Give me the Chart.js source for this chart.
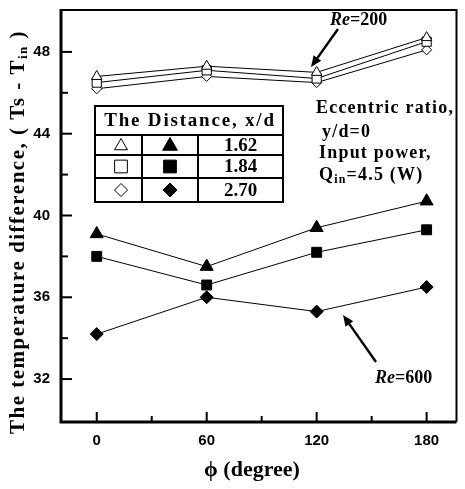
<!DOCTYPE html>
<html>
<head>
<meta charset="utf-8">
<script src="https://cdn.jsdelivr.net/npm/chart.js@4/dist/chart.umd.min.js"></script>
<style>
  body { margin: 0; background: #fff; }
</style>
</head>
<body>
<canvas id="grafico" width="465" height="489"></canvas>
<script>
// angulo phi (graus)
const phi = [0, 60, 120, 180];

// Re = 200 (simbolos abertos)
const re200_162 = [46.8, 47.3, 47.0, 48.7];
const re200_184 = [46.5, 47.1, 46.7, 48.5];
const re200_270 = [46.2, 46.8, 46.5, 48.1];

// Re = 600 (simbolos cheios)
const re600_162 = [39.1, 37.5, 39.4, 40.7];
const re600_184 = [38.0, 36.6, 38.2, 39.3];
const re600_270 = [34.2, 36.0, 35.3, 36.5];

const distancias = ['1.62', '1.84', '2.70'];
const xTicks = [0, 60, 120, 180];
const xMinor = [30, 90, 150];
const yTicks = [32, 36, 40, 44, 48];
const yMinor = [34, 38, 42, 46];

const serif = '"Liberation Serif", "DejaVu Serif", serif';
const sans = '"Liberation Sans", Arial, sans-serif';

function pontos(vals) {
  return vals.map((v, i) => ({ x: phi[i], y: v }));
}

function serie(vals, estilo, raio, cheio) {
  return {
    data: pontos(vals),
    borderColor: '#000',
    borderWidth: 1,
    pointStyle: estilo,
    pointRadius: raio,
    pointBorderWidth: 1,
    pointBorderColor: '#000',
    pointBackgroundColor: cheio ? '#000' : '#fff',
    fill: false,
    tension: 0
  };
}

function desenharMarcador(ctx, estilo, x, y, r, cheio) {
  ctx.save();
  ctx.beginPath();
  if (estilo === 'triangle') {
    ctx.moveTo(x, y - r);
    ctx.lineTo(x + r * 0.866, y + r * 0.5);
    ctx.lineTo(x - r * 0.866, y + r * 0.5);
    ctx.closePath();
  } else if (estilo === 'rect') {
    const s = r * Math.SQRT1_2;
    ctx.rect(x - s, y - s, 2 * s, 2 * s);
  } else {
    ctx.moveTo(x, y - r);
    ctx.lineTo(x + r, y);
    ctx.lineTo(x, y + r);
    ctx.lineTo(x - r, y);
    ctx.closePath();
  }
  ctx.lineWidth = 1;
  ctx.strokeStyle = '#000';
  ctx.fillStyle = cheio ? '#000' : '#fff';
  ctx.fill();
  ctx.stroke();
  ctx.restore();
}

function seta(ctx, x1, y1, x2, y2) {
  const ang = Math.atan2(y2 - y1, x2 - x1);
  const h = 12;
  ctx.save();
  ctx.strokeStyle = '#000';
  ctx.fillStyle = '#000';
  ctx.lineWidth = 2.4;
  ctx.beginPath();
  ctx.moveTo(x1, y1);
  ctx.lineTo(x2 - Math.cos(ang) * 6, y2 - Math.sin(ang) * 6);
  ctx.stroke();
  ctx.beginPath();
  ctx.moveTo(x2, y2);
  ctx.lineTo(x2 - h * Math.cos(ang - 0.4), y2 - h * Math.sin(ang - 0.4));
  ctx.lineTo(x2 - h * Math.cos(ang + 0.4), y2 - h * Math.sin(ang + 0.4));
  ctx.closePath();
  ctx.fill();
  ctx.restore();
}

function textoRe(ctx, x, y, numero) {
  ctx.save();
  ctx.fillStyle = '#000';
  ctx.textBaseline = 'middle';
  ctx.textAlign = 'left';
  ctx.font = 'italic bold 18px ' + serif;
  ctx.fillText('Re', x, y);
  const w = ctx.measureText('Re').width;
  ctx.font = 'bold 18px ' + serif;
  ctx.fillText('=' + numero, x + w, y);
  ctx.restore();
}

const molduraPlugin = {
  id: 'moldura',
  afterDraw(chart) {
    const ctx = chart.ctx;
    const a = chart.chartArea;
    const xs = chart.scales.x;
    const ys = chart.scales.y;

    ctx.save();
    ctx.strokeStyle = '#000';
    // moldura
    ctx.lineWidth = 2;
    ctx.beginPath();
    ctx.moveTo(a.left, a.top);
    ctx.lineTo(a.right, a.top);
    ctx.lineTo(a.right, a.bottom);
    ctx.stroke();
    ctx.lineWidth = 3;
    ctx.beginPath();
    ctx.moveTo(a.left, a.top - 1);
    ctx.lineTo(a.left, a.bottom);
    ctx.lineTo(a.right, a.bottom);
    ctx.stroke();

    // marcas para dentro
    ctx.lineWidth = 2;
    yTicks.forEach(v => {
      const p = ys.getPixelForValue(v);
      ctx.beginPath(); ctx.moveTo(a.left, p); ctx.lineTo(a.left + 11, p); ctx.stroke();
    });
    yMinor.forEach(v => {
      const p = ys.getPixelForValue(v);
      ctx.beginPath(); ctx.moveTo(a.left, p); ctx.lineTo(a.left + 7, p); ctx.stroke();
    });
    xTicks.forEach(v => {
      const p = xs.getPixelForValue(v);
      ctx.beginPath(); ctx.moveTo(p, a.bottom); ctx.lineTo(p, a.bottom - 10); ctx.stroke();
    });
    xMinor.forEach(v => {
      const p = xs.getPixelForValue(v);
      ctx.beginPath(); ctx.moveTo(p, a.bottom); ctx.lineTo(p, a.bottom - 6); ctx.stroke();
    });

    ctx.fillStyle = '#000';

    // titulo do eixo y
    ctx.save();
    ctx.translate(19, 232);
    ctx.rotate(-Math.PI / 2);
    ctx.letterSpacing = '1.5px';
    const t1 = 'The temperature difference, ( Ts - T';
    const t3 = ' )';
    ctx.font = 'bold 21px ' + serif;
    const w1 = ctx.measureText(t1).width;
    const w3 = ctx.measureText(t3).width;
    ctx.font = 'bold 13px ' + serif;
    const w2 = ctx.measureText('in').width;
    const total = w1 + w2 + w3;
    let x0 = -total / 2;
    ctx.textBaseline = 'middle';
    ctx.textAlign = 'left';
    ctx.font = 'bold 21px ' + serif;
    ctx.fillText(t1, x0, 0);
    ctx.font = 'bold 13px ' + serif;
    ctx.fillText('in', x0 + w1, 5);
    ctx.font = 'bold 21px ' + serif;
    ctx.fillText(t3, x0 + w1 + w2, 0);
    ctx.restore();

    // titulo do eixo x
    ctx.font = 'bold 22px ' + serif;
    ctx.textAlign = 'center';
    ctx.textBaseline = 'middle';
    ctx.fillText('\u03D5 (degree)', 252, 470);

    // tabela da legenda
    const L = 95, R = 283, T = 106, B = 202;
    const linhas = [135, 155, 178];
    const colunas = [142, 198];
    ctx.lineWidth = 2;
    ctx.strokeRect(L, T, R - L, B - T);
    linhas.forEach(y => { ctx.beginPath(); ctx.moveTo(L, y); ctx.lineTo(R, y); ctx.stroke(); });
    colunas.forEach(x => { ctx.beginPath(); ctx.moveTo(x, linhas[0]); ctx.lineTo(x, B); ctx.stroke(); });
    ctx.save();
    ctx.letterSpacing = '1.8px';
    ctx.font = 'bold 19px ' + serif;
    ctx.fillText('The Distance, x/d', (L + R) / 2 + 1, (T + linhas[0]) / 2 + 1);
    ctx.restore();
    const limites = [linhas[0], linhas[1], linhas[2], B];
    const estilos = ['triangle', 'rect', 'rectRot'];
    const raioAberto = [7.5, 9, 6.5];
    const raioCheio = [8.5, 9, 7];
    ctx.font = 'bold 19px ' + serif;
    for (let i = 0; i < 3; i++) {
      const cy = (limites[i] + limites[i + 1]) / 2;
      ctx.fillStyle = '#000';
      ctx.fillText(distancias[i], (colunas[1] + R) / 2, cy + 1);
      desenharMarcador(ctx, estilos[i], 121, cy + (i === 0 ? 1 : 0), raioAberto[i], false);
      desenharMarcador(ctx, estilos[i], 170, cy + (i === 0 ? 1 : 0), raioCheio[i], true);
    }

    // textos de condicao
    ctx.save();
    ctx.letterSpacing = '1.2px';
    ctx.fillStyle = '#000';
    ctx.textAlign = 'left';
    ctx.font = 'bold 18px ' + serif;
    ctx.fillText('Eccentric ratio,', 316, 108);
    ctx.fillText('y/d=0', 322, 132);
    ctx.fillText('Input power,', 319, 153);
    ctx.fillText('Q', 319, 175);
    const wq = ctx.measureText('Q').width;
    ctx.font = 'bold 12px ' + serif;
    ctx.fillText('in', 319 + wq, 180);
    const wi = ctx.measureText('in').width;
    ctx.font = 'bold 18px ' + serif;
    ctx.fillText('=4.5 (W)', 319 + wq + wi, 175);
    ctx.restore();

    // anotacoes Re
    textoRe(ctx, 330, 20, '200');
    seta(ctx, 338, 29, 311, 67);
    textoRe(ctx, 375, 378, '600');
    seta(ctx, 376, 362, 343, 315);

    ctx.restore();
  }
};

const ctx = document.getElementById('grafico').getContext('2d');

const chart = new Chart(ctx, {
  type: 'line',
  data: {
    datasets: [
      serie(re200_162, 'triangle', 6, false),
      serie(re200_184, 'rect', 6.5, false),
      serie(re200_270, 'rectRot', 5, false),
      serie(re600_162, 'triangle', 7.5, true),
      serie(re600_184, 'rect', 7, true),
      serie(re600_270, 'rectRot', 6.5, true)
    ]
  },
  options: {
    responsive: false,
    animation: false,
    devicePixelRatio: 1,
    layout: { padding: { top: 10, right: 6, left: 0, bottom: 0 } },
    plugins: {
      legend: { display: false },
      tooltip: { enabled: false }
    },
    scales: {
      x: {
        type: 'linear',
        min: -19.5,
        max: 196.3,
        grid: { display: false, drawTicks: false },
        border: { display: false },
        afterBuildTicks: s => { s.ticks = xTicks.map(v => ({ value: v })); },
        afterFit: s => { s.height = 67; s.paddingLeft = 0; s.paddingRight = 0; },
        ticks: {
          color: '#000',
          padding: 10,
          font: { family: sans, size: 15, weight: 'bold' }
        }
      },
      y: {
        min: 29.9,
        max: 50.05,
        grid: { display: false, drawTicks: false },
        border: { display: false },
        afterBuildTicks: s => { s.ticks = yTicks.map(v => ({ value: v })); },
        afterFit: s => { s.width = 61; s.paddingTop = 0; s.paddingBottom = 0; },
        ticks: {
          color: '#000',
          padding: 11,
          font: { family: sans, size: 15, weight: 'bold' }
        }
      }
    }
  },
  plugins: [molduraPlugin]
});
</script>
</body>
</html>
